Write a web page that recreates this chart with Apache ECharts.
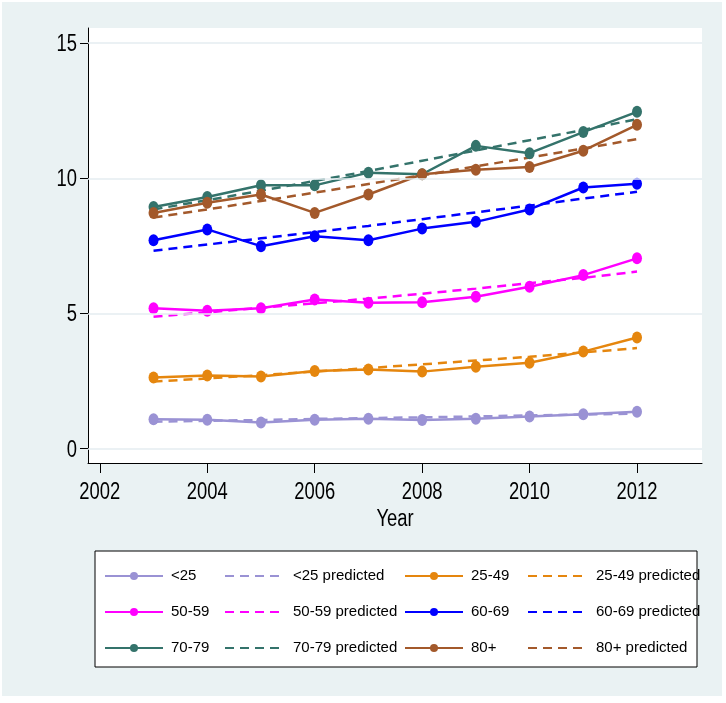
<!DOCTYPE html>
<html>
<head>
<meta charset="utf-8">
<script src="https://cdn.jsdelivr.net/npm/echarts@6/dist/echarts.min.js"></script>
<style>
html,body{margin:0;padding:0;background:#ffffff;}
#main{position:absolute;left:2px;top:2px;width:720px;height:694px;}
</style>
</head>
<body>
<div id="main"></div>
<script>
const years = [2003, 2004, 2005, 2006, 2007, 2008, 2009, 2010, 2011, 2012];
const xTicks = [2002, 2004, 2006, 2008, 2010, 2012];
const yTicks = [0, 5, 10, 15];
const xTitle = 'Year';

const under25      = [1.09, 1.07, 0.97, 1.07, 1.11, 1.06, 1.11, 1.19, 1.27, 1.37];
const under25Pred  = [1.00, 1.03, 1.06, 1.10, 1.13, 1.16, 1.19, 1.23, 1.26, 1.30];
const age25_49     = [2.63, 2.71, 2.67, 2.87, 2.93, 2.85, 3.03, 3.18, 3.59, 4.11];
const age25_49Pred = [2.48, 2.60, 2.72, 2.85, 2.98, 3.12, 3.26, 3.40, 3.56, 3.72];
const age50_59     = [5.19, 5.10, 5.19, 5.52, 5.40, 5.42, 5.62, 5.99, 6.42, 7.04];
const age50_59Pred = [4.88, 5.04, 5.21, 5.38, 5.55, 5.73, 5.92, 6.12, 6.32, 6.55];
const age60_69     = [7.71, 8.11, 7.49, 7.86, 7.71, 8.14, 8.39, 8.85, 9.66, 9.80];
const age60_69Pred = [7.32, 7.55, 7.78, 8.01, 8.24, 8.49, 8.74, 8.99, 9.25, 9.50];
const age70_79     = [8.94, 9.31, 9.74, 9.74, 10.21, 10.15, 11.20, 10.93, 11.71, 12.46];
const age70_79Pred = [8.85, 9.19, 9.54, 9.90, 10.27, 10.65, 11.03, 11.41, 11.79, 12.19];
const age80        = [8.72, 9.10, 9.40, 8.72, 9.40, 10.15, 10.32, 10.42, 11.02, 11.98];
const age80Pred    = [8.55, 8.85, 9.16, 9.47, 9.79, 10.11, 10.44, 10.77, 11.10, 11.45];

const groups = [
  {name: '<25',   obs: under25,  pred: under25Pred,  color: '#9a92d4'},
  {name: '25-49', obs: age25_49, pred: age25_49Pred, color: '#e5860e'},
  {name: '50-59', obs: age50_59, pred: age50_59Pred, color: '#ff00ff'},
  {name: '60-69', obs: age60_69, pred: age60_69Pred, color: '#0000ff'},
  {name: '70-79', obs: age70_79, pred: age70_79Pred, color: '#34736b'},
  {name: '80+',   obs: age80,    pred: age80Pred,    color: '#a3592b'}
];

const FONT = "'Liberation Sans', Arial, sans-serif";
const SQUEEZE = 0.8;
const pair = (arr) => years.map((y, i) => [y, arr[i]]);

const series = [];
groups.forEach(g => {
  series.push({
    name: g.name, type: 'line', data: pair(g.obs),
    symbol: 'circle', symbolSize: [10, 12],
    lineStyle: {color: g.color, width: 2.5},
    itemStyle: {color: g.color},
    animation: false, z: 3
  });
  series.push({
    name: g.name + ' predicted', type: 'line', data: pair(g.pred),
    symbol: 'none', showSymbol: false,
    lineStyle: {color: g.color, width: 2.5, type: [9, 6]},
    itemStyle: {color: g.color},
    animation: false, z: 3
  });
});
series.push({
  type: 'line', data: [], silent: true, animation: false,
  markLine: {
    silent: true, symbol: 'none', label: {show: false},
    lineStyle: {color: '#e4edf0', width: 1.5, type: 'solid'},
    data: yTicks.map(v => ({yAxis: v}))
  }
});

const colIcon = [102, 222, 402, 525];
const rowCenter = [574, 610, 646];
const legends = [];
series.filter(s => s.name).forEach((s, i) => {
  const r = Math.floor(i / 4), c = i % 4;
  const isPred = i % 2 === 1;
  legends.push({
    data: [s.name],
    left: colIcon[c], top: rowCenter[r] - 9,
    padding: 0,
    itemWidth: 58, itemHeight: 10,
    itemStyle: isPred ? {opacity: 0} : {},
    textStyle: {fontFamily: FONT, fontSize: 15, color: '#000', padding: [0, 0, 0, isPred ? 5 : 3], lineHeight: 18},
    selectedMode: false
  });
});

const chart = echarts.init(document.getElementById('main'), null, {renderer: 'canvas'});
chart.setOption({
  backgroundColor: '#eaf2f3',
  animation: false,
  grid: {left: 86, top: 26, right: 20, bottom: 233, backgroundColor: '#ffffff', show: true, borderWidth: 0},
  xAxis: {
    type: 'value', min: 2001.78, max: 2013.21,
    axisLine: {show: true, onZero: false, lineStyle: {color: '#000', width: 1}},
    axisTick: {show: true, customValues: xTicks, length: 10, lineStyle: {color: '#000'}},
    axisLabel: {show: false, customValues: xTicks},
    splitLine: {show: false}
  },
  yAxis: {
    type: 'value', min: -0.53, max: 15.56,
    axisLine: {show: true, lineStyle: {color: '#000', width: 1}},
    axisTick: {show: true, customValues: yTicks, length: 8, lineStyle: {color: '#000'}},
    axisLabel: {show: false, customValues: yTicks},
    splitLine: {show: false}
  },
  legend: legends,
  series: series
});

// Tick labels and axis title, drawn as horizontally condensed text at the axis' own pixel positions
const gfx = [];
gfx.push({type: 'rect', shape: {x: 93, y: 549, width: 602, height: 116},
  style: {fill: '#ffffff', stroke: '#000000', lineWidth: 1}, z: -1, silent: true});
const yMin = chart.getModel().getComponent('yAxis', 0).axis.scale.getExtent()[0];
const xMin = chart.getModel().getComponent('xAxis', 0).axis.scale.getExtent()[0];
const xMax = chart.getModel().getComponent('xAxis', 0).axis.scale.getExtent()[1];
const axisBottom = chart.convertToPixel({gridIndex: 0}, [xMin, yMin]);
xTicks.forEach(v => {
  const p = chart.convertToPixel({gridIndex: 0}, [v, yMin]);
  gfx.push({type: 'text', x: p[0], y: p[1] + 30, scaleX: SQUEEZE, silent: true,
    style: {text: String(v), font: "23px " + FONT, fill: '#000', align: 'center', verticalAlign: 'middle'}});
});
yTicks.forEach(v => {
  const p = chart.convertToPixel({gridIndex: 0}, [xMin, v]);
  gfx.push({type: 'text', x: p[0] - 11, y: p[1] + 1.5, scaleX: SQUEEZE, silent: true,
    style: {text: String(v), font: "23px " + FONT, fill: '#000', align: 'right', verticalAlign: 'middle'}});
});
const mid = chart.convertToPixel({gridIndex: 0}, [(xMin + xMax) / 2, yMin]);
gfx.push({type: 'text', x: mid[0], y: mid[1] + 57, scaleX: SQUEEZE, silent: true,
  style: {text: xTitle, font: "23px " + FONT, fill: '#000', align: 'center', verticalAlign: 'middle'}});
chart.setOption({graphic: gfx});
</script>
</body>
</html>
